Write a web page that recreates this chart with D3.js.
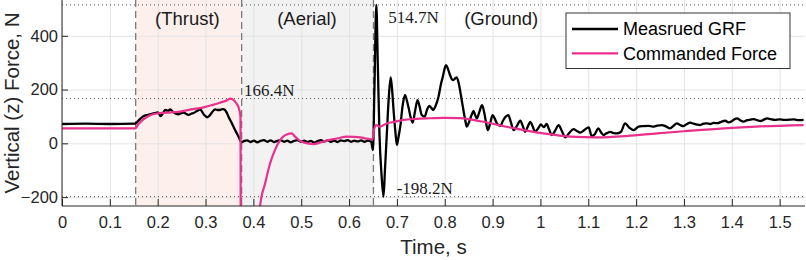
<!DOCTYPE html>
<html>
<head>
<meta charset="utf-8">
<script src="https://cdn.jsdelivr.net/npm/d3@7"></script>
<style>
  body { margin: 0; background: #fff; }
  svg { display: block; font-family: "Liberation Sans", Arial, sans-serif; }
  .axis path, .axis line { stroke: #262626; }
  .axis text { fill: #262626; font-size: 16.5px; }
  .grid line { stroke: #e3e3e3; }
  .grid path { display: none; }
</style>
</head>
<body>
<div id="chart"></div>
<script>
// Measured ground reaction force vs commanded force during a jump

// Data (time in s, force in N)
const grfTime = [0, 0.05, 0.1, 0.153, 0.160, 0.170, 0.180, 0.191, 0.201, 0.206, 0.211, 0.216, 0.222, 0.226, 0.233, 0.238, 0.243, 0.249, 0.254, 0.259, 0.264, 0.270, 0.275, 0.282, 0.289, 0.296, 0.304, 0.309, 0.313, 0.320, 0.325, 0.330, 0.335, 0.339, 0.344, 0.348, 0.355, 0.362, 0.369, 0.375,
  0.380, 0.387, 0.394, 0.401, 0.408, 0.415, 0.422, 0.429, 0.436, 0.443, 0.450, 0.457, 0.464, 0.471, 0.478, 0.485, 0.492, 0.499, 0.506, 0.513, 0.520, 0.527, 0.534, 0.541, 0.548, 0.555, 0.562, 0.569, 0.576, 0.583, 0.590, 0.597, 0.604, 0.611, 0.618, 0.625, 0.632, 0.639, 0.646,
  0.650, 0.653, 0.657, 0.660, 0.6635, 0.668, 0.672, 0.675, 0.679, 0.683, 0.687, 0.690, 0.693, 0.697, 0.700, 0.703, 0.707, 0.712, 0.717, 0.720, 0.724, 0.729, 0.733, 0.738, 0.743, 0.747, 0.752, 0.758, 0.763, 0.768, 0.772, 0.776, 0.781, 0.787, 0.792, 0.796, 0.800, 0.803, 0.807, 0.811, 0.815, 0.818, 0.822, 0.825, 0.829, 0.832, 0.836, 0.839, 0.843, 0.846, 0.851, 0.856, 0.860, 0.863, 0.867, 0.872, 0.878, 0.883, 0.887, 0.890, 0.895, 0.900, 0.905, 0.909, 0.916, 0.922, 0.928, 0.933, 0.938, 0.944, 0.950, 0.958, 0.963, 0.968, 0.973, 0.979, 0.984, 0.989, 0.995, 1.001, 1.007, 1.013, 1.018, 1.024, 1.031, 1.038, 1.045, 1.052, 1.060, 1.069, 1.076, 1.083, 1.092, 1.101, 1.107, 1.114, 1.121, 1.127, 1.132, 1.139, 1.146, 1.153, 1.160, 1.168, 1.177, 1.186, 1.195, 1.205, 1.215, 1.226, 1.235, 1.244, 1.254, 1.262, 1.271, 1.278, 1.285, 1.292, 1.299, 1.306, 1.313, 1.320, 1.327, 1.334, 1.341, 1.348, 1.355, 1.362, 1.370, 1.378, 1.386, 1.393, 1.400, 1.406, 1.411, 1.418, 1.425, 1.432, 1.439, 1.446, 1.453, 1.460, 1.467, 1.474, 1.481, 1.490, 1.500, 1.510, 1.520, 1.530, 1.540, 1.550];
const grfValue = [72, 73, 72, 73, 85, 101, 106, 111, 115, 101, 112, 124, 121, 126, 115, 110, 108, 112, 114, 110, 106, 110, 113, 120, 126, 108, 97, 104, 114, 126, 124, 124, 127, 126, 115, 99, 75, 49, 25, 4,
  8, 11, 5, 10, 4, 9, 12, 6, 11, 5, 9, 12, 6, 10, 4, 9, 12, 6, 10, 5, 9, 3, 8, 12, 7, 11, 6, 10, 5, 11, 8, 12, 6, 10, 7, 11, 6, 10, 7,
  -25, 200, 514.7, 300, 37, -120, -198.2, -100, 37, 170, 245, 200, 124, 40, -6, 20, 62, 140, 180, 165, 136, 95, 77, 120, 161, 140, 105, 99, 125, 139, 132, 124, 140, 173, 220, 248, 280, 291, 275, 254, 238, 235, 242, 245, 225, 198, 155, 124, 85, 62, 80, 105, 121, 108, 93, 115, 142, 110, 70, 49, 75, 105, 90, 74, 65, 85, 100, 105, 80, 49, 62, 84, 65, 43, 60, 80, 62, 43, 55, 70, 60, 72, 52, 31, 48, 68, 45, 22, 38, 53, 46, 40, 50, 59, 27, 35, 56, 40, 31, 38, 43, 38, 37, 42, 74, 58, 49, 62, 64, 65, 62, 66, 68, 63, 56, 65, 74, 68, 64, 72, 77, 73, 70, 68, 73, 74, 72, 76, 75, 80, 84, 78, 82, 90, 93, 85, 81, 86, 88, 90, 86, 83, 88, 93, 90, 87, 89, 87, 88, 89, 86, 87];

const cmdTime = [0, 0.153, 0.160, 0.170, 0.180, 0.198, 0.220, 0.243, 0.270, 0.296, 0.313, 0.330, 0.345, 0.352, 0.358, 0.364, 0.370, 0.373, 0.374, 0.404, 0.409, 0.414, 0.4245, 0.435, 0.445, 0.456, 0.463, 0.470, 0.480, 0.487, 0.494, 0.501, 0.513, 0.526, 0.540, 0.553, 0.575, 0.595, 0.610, 0.623, 0.644, 0.649, 0.652, 0.657, 0.664, 0.679, 0.695, 0.714, 0.740, 0.763, 0.800, 0.832, 0.874, 0.937, 1.006, 1.062, 1.118, 1.180, 1.244, 1.300, 1.383, 1.460, 1.550];
const cmdValue = [56, 56, 72, 89, 101, 111, 114, 117, 126, 134, 142, 151, 160, 166.4, 162, 150, 128, 100, -700, -700, -400, -233, -149, -74, -25, 12, 26, 33, 37, 25, 14, 6, 0, -3, 3, 10, 18, 25, 24, 22, 15, 14, 50, 68, 62, 74, 80, 87, 91, 93, 95, 94, 82, 59, 37, 25, 22, 27, 37, 45, 56, 63, 68];

const xTicks = [0, 0.1, 0.2, 0.3, 0.4, 0.5, 0.6, 0.7, 0.8, 0.9, 1, 1.1, 1.2, 1.3, 1.4, 1.5];
const yTicks = [-200, 0, 200, 400];

const phases = [
  { name: '(Thrust)', start: 0.154, end: 0.3755, label: 0.262, fill: '#fdf0ec' },
  { name: '(Aerial)', start: 0.3755, end: 0.651, label: 0.512, fill: '#f2f2f2' },
  { name: '(Ground)', start: 0.651, end: 1.553, label: 0.918, fill: 'none' }
];
const phaseLines = [0.154, 0.3755, 0.651];
const peaks = [
  { value: 514.7, label: '514.7N', t: 0.682, y: 17 },
  { value: 166.4, label: '166.4N', t: 0.3805, y: 90 },
  { value: -198.2, label: '-198.2N', t: 0.6995, y: 188 }
];

// Layout
const W = 806, H = 260;
const margin = { top: 0, right: 1, bottom: 54, left: 62 };
const width = W - margin.left - margin.right;
const height = H - margin.top - margin.bottom;

const svg = d3.select('#chart').append('svg')
  .attr('width', W).attr('height', H);
const g = svg.append('g')
  .attr('transform', `translate(${margin.left},${margin.top})`);

const x = d3.scaleLinear().domain([0, 1.553]).range([0, width]);
const y = d3.scaleLinear().domain([-233, 533]).range([height, 0]);

g.append('clipPath').attr('id', 'clip')
  .append('rect').attr('width', width).attr('height', height);

// Phase shading
g.selectAll('.phase').data(phases.filter(p => p.fill !== 'none')).enter()
  .append('rect')
  .attr('x', d => x(d.start))
  .attr('width', d => x(d.end) - x(d.start))
  .attr('y', 0).attr('height', height)
  .attr('fill', d => d.fill);

// Grid
g.append('g').attr('class', 'grid')
  .attr('transform', `translate(0,${height})`)
  .call(d3.axisBottom(x).tickValues(xTicks).tickSize(-height).tickFormat(''));
g.append('g').attr('class', 'grid')
  .call(d3.axisLeft(y).tickValues(yTicks).tickSize(-width).tickFormat(''));

// Peak reference lines
g.selectAll('.peak-line').data(peaks).enter()
  .append('line')
  .attr('x1', 0).attr('x2', width)
  .attr('y1', d => y(d.value)).attr('y2', d => y(d.value))
  .attr('stroke', '#555').attr('stroke-width', 1)
  .attr('stroke-dasharray', '1,3');

// Phase boundaries
g.selectAll('.phase-line').data(phaseLines).enter()
  .append('line')
  .attr('x1', d => x(d)).attr('x2', d => x(d))
  .attr('y1', 0).attr('y2', height)
  .attr('stroke', '#7a7a7a').attr('stroke-width', 1.3)
  .attr('stroke-dasharray', '7,4');

// Lines
const line = d3.line()
  .x(d => x(d[0]))
  .y(d => y(d[1]))
  .curve(d3.curveMonotoneX);

const plot = g.append('g').attr('clip-path', 'url(#clip)');
plot.append('path')
  .datum(d3.zip(grfTime, grfValue))
  .attr('d', line)
  .attr('fill', 'none')
  .attr('stroke', '#000')
  .attr('stroke-width', 2.3)
  .attr('stroke-linejoin', 'round');
plot.append('path')
  .datum(d3.zip(cmdTime, cmdValue))
  .attr('d', line)
  .attr('fill', 'none')
  .attr('stroke', '#e8308c')
  .attr('stroke-width', 2.2)
  .attr('stroke-linejoin', 'round');

// Axes
g.append('g').attr('class', 'axis')
  .attr('transform', `translate(0,${height})`)
  .call(d3.axisBottom(x).tickValues(xTicks).tickSize(-7).tickPadding(10)
    .tickFormat(d => String(+d.toFixed(1))))
  .call(a => a.select('.domain').attr('d', `M0,0H${width}`));
g.append('g').attr('class', 'axis')
  .call(d3.axisLeft(y).tickValues(yTicks).tickSize(-6).tickPadding(4))
  .call(a => a.select('.domain').attr('d', `M0,0V${height}`));

// Phase labels
g.selectAll('.phase-label').data(phases).enter()
  .append('text')
  .attr('x', d => x(d.label))
  .attr('y', 19)
  .attr('dy', '0.35em')
  .attr('text-anchor', 'middle')
  .style('font-size', '18.5px')
  .attr('fill', '#1a1a1a')
  .text(d => d.name);

// Peak annotations
g.selectAll('.peak-label').data(peaks).enter()
  .append('text')
  .attr('x', d => x(d.t))
  .attr('y', d => d.y)
  .attr('dy', '0.35em')
  .style('font-family', '"Liberation Serif", "Times New Roman", serif')
  .style('font-size', '17px')
  .attr('fill', '#1a1a1a')
  .text(d => d.label);

// Axis labels
svg.append('text')
  .attr('x', margin.left + width / 2)
  .attr('y', 247)
  .attr('dy', '0.35em')
  .attr('text-anchor', 'middle')
  .style('font-size', '20.5px')
  .attr('fill', '#262626')
  .text('Time, s');
svg.append('text')
  .attr('transform', `translate(12,${margin.top + height / 2}) rotate(-90)`)
  .attr('dy', '0.35em')
  .attr('text-anchor', 'middle')
  .style('font-size', '20.5px')
  .attr('fill', '#262626')
  .text('Vertical (z) Force, N');

// Legend
const legendItems = [
  { name: 'Measrued GRF', color: '#000' },
  { name: 'Commanded Force', color: '#e8308c' }
];
const legend = svg.append('g').attr('transform', 'translate(566,13)');
legend.append('rect')
  .attr('width', 224).attr('height', 55.5)
  .attr('fill', '#fff').attr('stroke', '#333').attr('stroke-width', 1);
legendItems.forEach((item, i) => {
  const yy = 16 + i * 24.3;
  legend.append('line')
    .attr('x1', 6).attr('x2', 52)
    .attr('y1', yy).attr('y2', yy)
    .attr('stroke', item.color).attr('stroke-width', 2.3);
  legend.append('text')
    .attr('x', 57).attr('y', yy)
    .attr('dy', '0.35em')
    .style('font-size', '18px')
    .attr('fill', '#000')
    .text(item.name);
});
</script>
</body>
</html>
